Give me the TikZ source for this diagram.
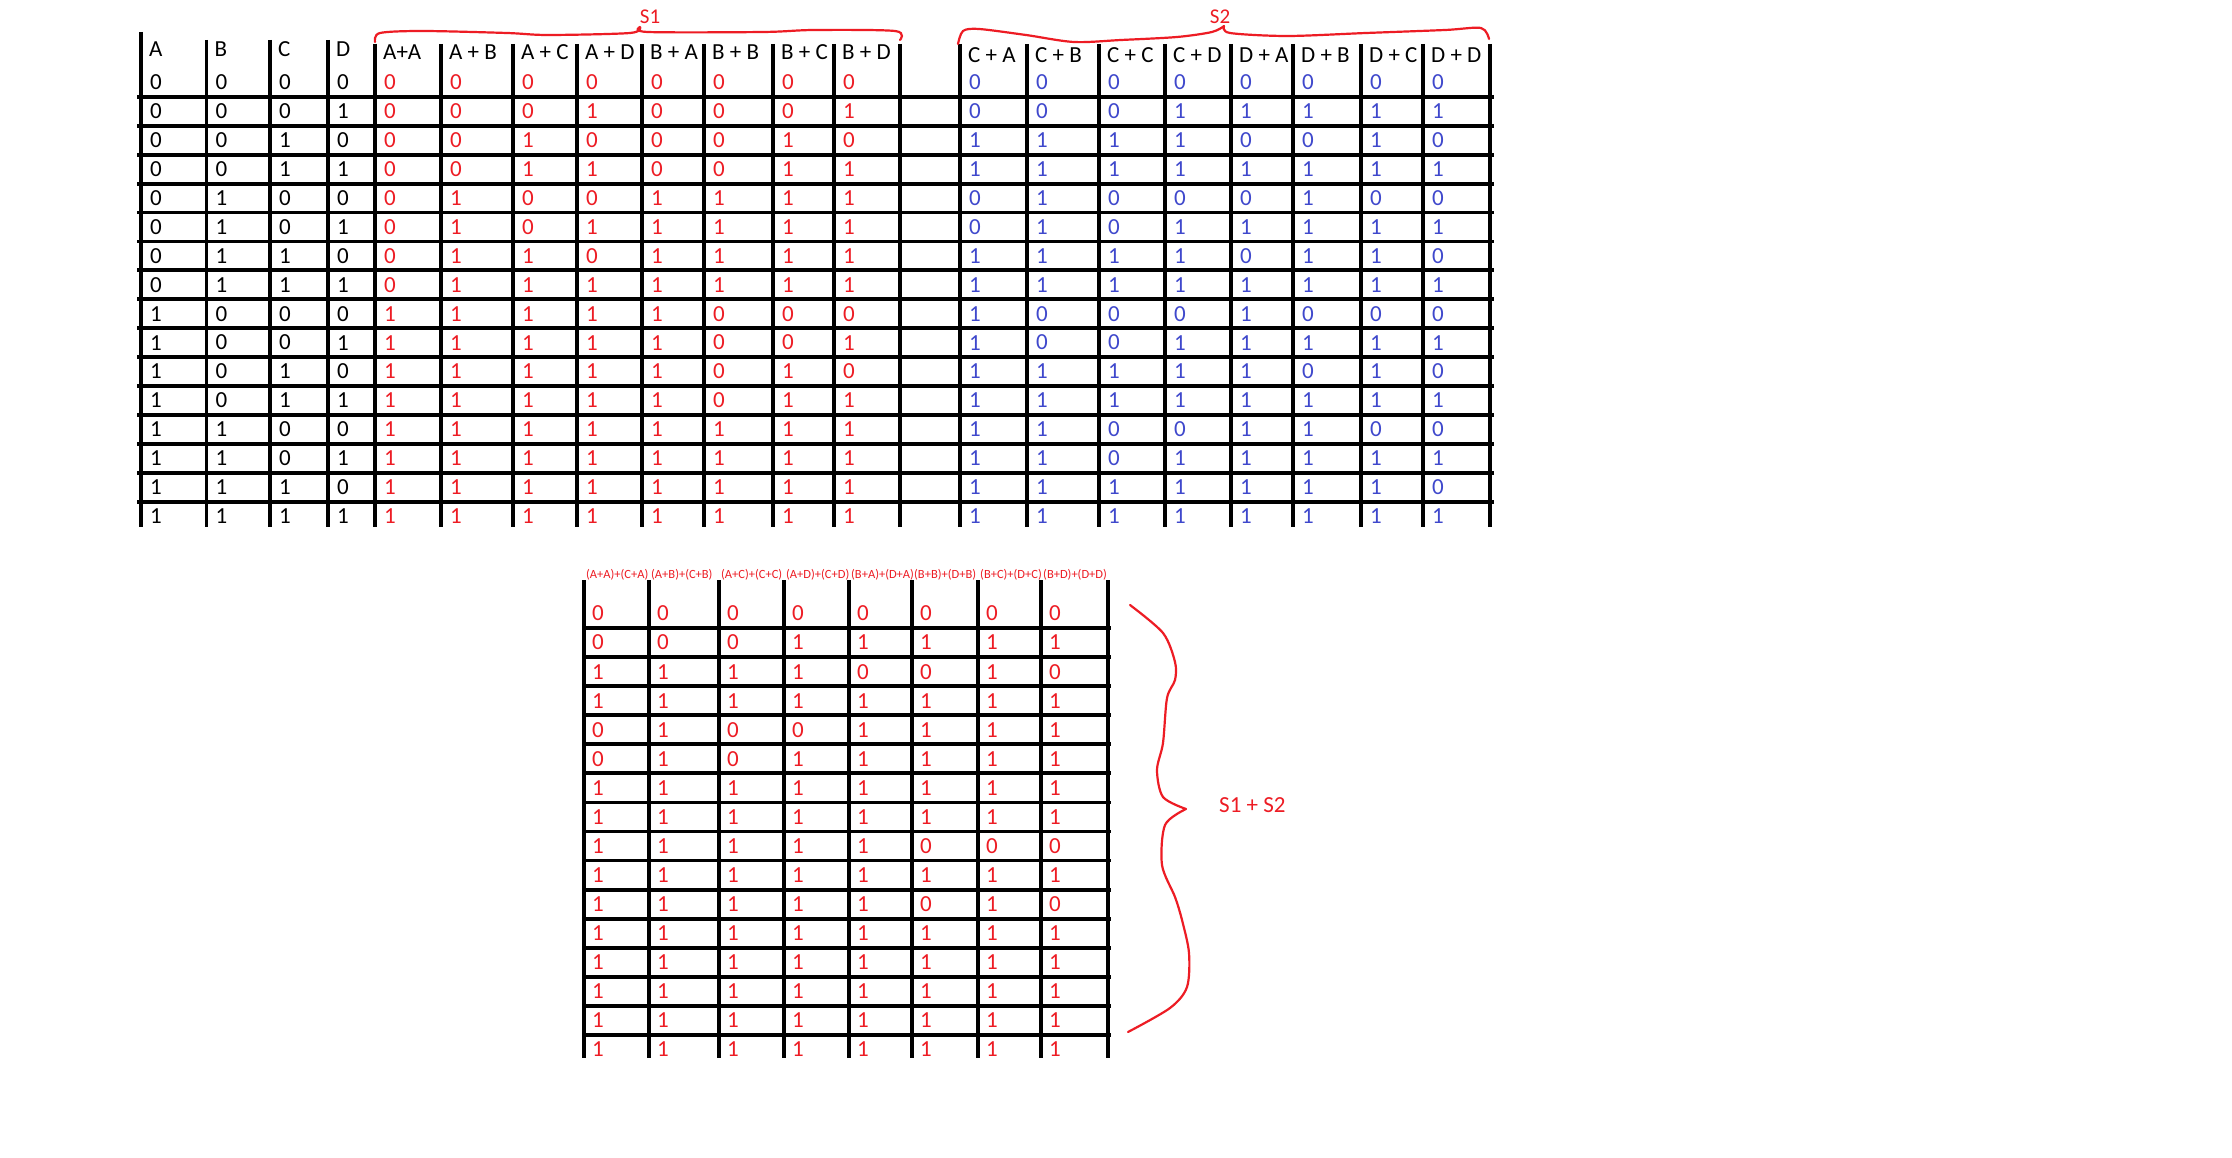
\documentclass[tikz,border=0pt]{standalone}
\usepackage{fontspec}
\setmainfont{Carlito}
\definecolor{pred}{RGB}{237,28,36}
\definecolor{pblue}{RGB}{63,72,204}
\begin{document}
\begin{tikzpicture}[x=1pt,y=-1pt,
  grid/.style={line width=3.8pt},
  cell/.style={anchor=west,inner sep=0pt,font=\fontsize{23}{27}\selectfont},
  small/.style={anchor=west,inner sep=0pt,font=\fontsize{12.5}{14}\selectfont,text=pred},
  lbl/.style={inner sep=0pt,text=pred,font=\fontsize{21}{25}\selectfont},
  hand/.style={draw=pred,line width=2.2pt,line join=round,line cap=round}]
\useasboundingbox[fill=white] (0,0) rectangle (2232,1158);
\def\topX{{141,206.5,270,328,375,441,513,577,642,704,773,834,960,1027,1099,1165,1231,1293,1361,1423}}
\def\botX{{584,649,719,784,849,912,978,1041}}
% ---------- top table grid ----------
\foreach \k in {0,...,14} \draw[grid] (137,{97+28.9*\k}) -- (1494,{97+28.9*\k});
\draw[grid] (141,32) -- (141,527);
\foreach \x in {206.5,270,328} \draw[grid] (\x,40) -- (\x,527);
\foreach \x in {375,441,513,577,642,704,773,834,900,960,1027,1099,1165,1231,1293,1361,1423,1490}
  \draw[grid] (\x,44) -- (\x,527);
% ---------- top headers ----------
\foreach \t [count=\ci from 0] in {A,B,C,D,A+A,A + B,A + C,A + D,B + A,B + B,B + C,B + D,C + A,C + B,C + C,C + D,D + A,D + B,D + C,D + D}{
  \pgfmathsetmacro\xx{\topX[\ci]+8}
  \ifnum\ci<4 \def\yy{49}\else\ifnum\ci<12 \def\yy{52}\else\def\yy{55}\fi\fi
  \node[cell] (h-\ci) at (\xx,\yy) {\t};
}
% ---------- top values ----------
\foreach \rowvals [count=\ri from 0] in {
 {0,0,0,0, 0,0,0,0,0,0,0,0, 0,0,0,0,0,0,0,0},
 {0,0,0,1, 0,0,0,1,0,0,0,1, 0,0,0,1,1,1,1,1},
 {0,0,1,0, 0,0,1,0,0,0,1,0, 1,1,1,1,0,0,1,0},
 {0,0,1,1, 0,0,1,1,0,0,1,1, 1,1,1,1,1,1,1,1},
 {0,1,0,0, 0,1,0,0,1,1,1,1, 0,1,0,0,0,1,0,0},
 {0,1,0,1, 0,1,0,1,1,1,1,1, 0,1,0,1,1,1,1,1},
 {0,1,1,0, 0,1,1,0,1,1,1,1, 1,1,1,1,0,1,1,0},
 {0,1,1,1, 0,1,1,1,1,1,1,1, 1,1,1,1,1,1,1,1},
 {1,0,0,0, 1,1,1,1,1,0,0,0, 1,0,0,0,1,0,0,0},
 {1,0,0,1, 1,1,1,1,1,0,0,1, 1,0,0,1,1,1,1,1},
 {1,0,1,0, 1,1,1,1,1,0,1,0, 1,1,1,1,1,0,1,0},
 {1,0,1,1, 1,1,1,1,1,0,1,1, 1,1,1,1,1,1,1,1},
 {1,1,0,0, 1,1,1,1,1,1,1,1, 1,1,0,0,1,1,0,0},
 {1,1,0,1, 1,1,1,1,1,1,1,1, 1,1,0,1,1,1,1,1},
 {1,1,1,0, 1,1,1,1,1,1,1,1, 1,1,1,1,1,1,1,0},
 {1,1,1,1, 1,1,1,1,1,1,1,1, 1,1,1,1,1,1,1,1}}{
  \foreach \v [count=\ci from 0] in \rowvals {
    \pgfmathsetmacro\xx{\topX[\ci]+9}
    \pgfmathsetmacro\yy{82.5+28.9*\ri}
    \ifnum\ci<4 \def\cc{black}\else\ifnum\ci<12 \def\cc{pred}\else\def\cc{pblue}\fi\fi
    \node[cell,text=\cc] (t-\ri-\ci) at (\xx,\yy) {\v};
  }
}
% ---------- braces S1, S2 ----------
\draw[hand] plot[smooth,tension=0.5] coordinates {(375,42) (380,33) (423,31) (507,33) (548,35) (630,33) (640,27)}
            plot[smooth,tension=0.5] coordinates {(640,27) (648,32) (763,32) (814,30) (895,31) (900,40)};
\draw[hand] plot[smooth,tension=0.5] coordinates {(958,44) (963,31) (979,29) (1026,35) (1074,42) (1121,40) (1177,37) (1212,32) (1224,26)}
            plot[smooth,tension=0.5] coordinates {(1224,26) (1230,33) (1287,36) (1366,33) (1445,30) (1481,28) (1489,39)};
\node[lbl] (s1) at (650,17) {S1};
\node[lbl] (s2) at (1220,17) {S2};
% ---------- bottom table grid ----------
\foreach \k in {0,...,14} \draw[grid] (582,{628+29.07*\k}) -- (1111,{628+29.07*\k});
\foreach \x in {584,649,719,784,849,912,978,1041,1108} \draw[grid] (\x,580) -- (\x,1058);
% ---------- bottom headers ----------
\foreach \t [count=\ci from 0] in {(A+A)+(C+A),(A+B)+(C+B),(A+C)+(C+C),(A+D)+(C+D),(B+A)+(D+A),(B+B)+(D+B),(B+C)+(D+C),(B+D)+(D+D)}{
  \pgfmathsetmacro\xx{\botX[\ci]+2}
  \node[small] (bh-\ci) at (\xx,575) {\t};
}
% ---------- bottom values ----------
\foreach \rowvals [count=\ri from 0] in {
 {0,0,0,0,0,0,0,0},
 {0,0,0,1,1,1,1,1},
 {1,1,1,1,0,0,1,0},
 {1,1,1,1,1,1,1,1},
 {0,1,0,0,1,1,1,1},
 {0,1,0,1,1,1,1,1},
 {1,1,1,1,1,1,1,1},
 {1,1,1,1,1,1,1,1},
 {1,1,1,1,1,0,0,0},
 {1,1,1,1,1,1,1,1},
 {1,1,1,1,1,0,1,0},
 {1,1,1,1,1,1,1,1},
 {1,1,1,1,1,1,1,1},
 {1,1,1,1,1,1,1,1},
 {1,1,1,1,1,1,1,1},
 {1,1,1,1,1,1,1,1}}{
  \foreach \v [count=\ci from 0] in \rowvals {
    \pgfmathsetmacro\xx{\botX[\ci]+8}
    \pgfmathsetmacro\yy{613.5+29.07*\ri}
    \node[cell,text=pred] (b-\ri-\ci) at (\xx,\yy) {\v};
  }
}
% ---------- right brace ----------
\draw[hand] plot[smooth,tension=0.5] coordinates {(1130,605) (1163,633) (1175,662) (1175,680) (1167,698) (1163,743) (1157,770) (1163,797) (1186,809)}
            plot[smooth,tension=0.5] coordinates {(1186,809) (1165,825) (1162,865) (1175,897) (1182,920) (1189,953) (1187,987) (1170,1008) (1128,1032)};
\node[lbl,anchor=west,font=\fontsize{23}{27}\selectfont] (s12) at (1219,805) {S1 + S2};
\end{tikzpicture}
\end{document}
